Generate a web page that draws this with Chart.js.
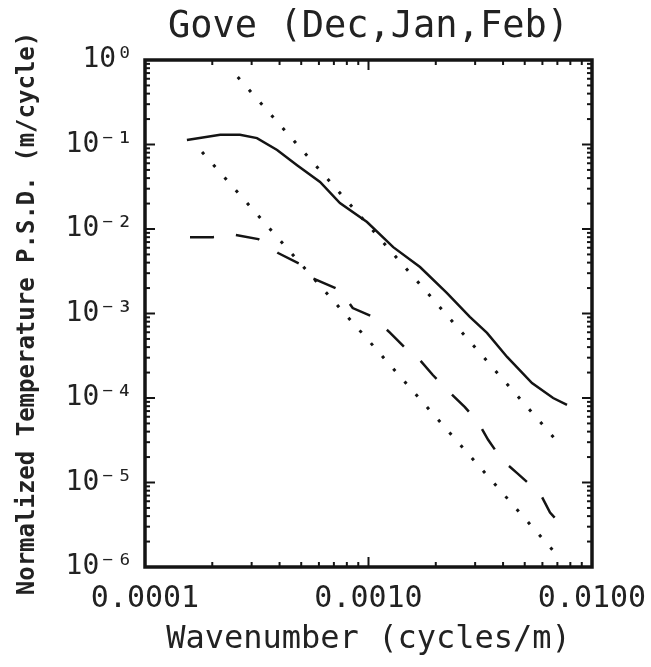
<!DOCTYPE html>
<html><head><meta charset="utf-8">
<script src="https://cdn.jsdelivr.net/npm/chart.js@4/dist/chart.umd.min.js"></script>
<style>html,body{margin:0;padding:0;background:#fff;}#wrap{width:651px;height:667px;}</style>
</head><body><div id="wrap"><canvas id="c" width="651" height="667"></canvas></div>
<script>
// Solid spectrum
const spectrumX = [1.54e-4, 2.17e-4, 2.66e-4, 3.17e-4, 3.9e-4, 4.79e-4, 6.07e-4, 7.45e-4, 9.85e-4, 1.29e-3, 1.70e-3, 2.24e-3, 2.84e-3, 3.39e-3, 4.17e-3, 5.39e-3, 6.7e-3, 7.73e-3];
const spectrumY = [0.113, 0.13, 0.13, 0.119, 0.086, 0.057, 0.036, 0.0203, 0.0121, 6.1e-3, 3.55e-3, 1.75e-3, 9.1e-4, 5.9e-4, 3.06e-4, 1.5e-4, 1.0e-4, 8.3e-5];
// Dashed spectrum
const dashedX = [1.59e-4, 2.01e-4, 2.53e-4, 3.21e-4, 3.94e-4, 5.04e-4, 5.47e-4, 7.45e-4, 8.5e-4, 1.05e-3, 1.25e-3, 1.46e-3, 1.70e-3, 1.94e-3, 2.32e-3, 2.70e-3, 3.09e-3, 3.43e-3, 3.96e-3, 4.61e-3, 5.17e-3, 5.85e-3, 6.49e-3, 7.41e-3];
const dashedY = [8.0e-3, 8.0e-3, 8.5e-3, 7.6e-3, 5.2e-3, 3.75e-3, 2.7e-3, 1.9e-3, 1.16e-3, 9.1e-4, 5.9e-4, 3.9e-4, 2.8e-4, 1.87e-4, 1.15e-4, 7.8e-5, 5.2e-5, 3.2e-5, 1.85e-5, 1.3e-5, 9.9e-6, 7.5e-6, 4.4e-6, 3.0e-6];
// Dotted reference lines
const refUpperX = [2.6e-4, 1.0e-3, 7.2e-3];
const refUpperY = [0.63, 0.011, 2.8e-5];
const refLowerX = [1.8e-4, 1.0e-3, 6.97e-3];
const refLowerY = [0.0815, 4.8e-4, 1.39e-6];
// Ticks
const xTickValues = [0.0001, 0.001, 0.01];
const yTickValues = [1e-6, 1e-5, 1e-4, 1e-3, 1e-2, 1e-1, 1];

const SUP = {'0':'⁰','1':'¹','2':'²','3':'³','4':'⁴','5':'⁵','6':'⁶','7':'⁷','8':'⁸','9':'⁹','-':'⁻'};
function supLabel(v){const e=String(Math.round(Math.log10(v)));return '10'+e.split('').map(c=>SUP[c]).join('');}
const pts=(xs,ys)=>xs.map((x,i)=>({x,y:ys[i]}));
const INK='#141414';
const MONO='"DejaVu Sans Mono", monospace';

const framePlugin={
  id:'frame',
  afterDatasetsDraw(chart){
    const {ctx,chartArea:a,scales:{x,y}}=chart;
    ctx.save();
    ctx.strokeStyle=INK;ctx.lineWidth=2;
    const ln=(x1,y1,x2,y2)=>{ctx.beginPath();ctx.moveTo(x1,y1);ctx.lineTo(x2,y2);ctx.stroke();};
    for(let d=-4;d<=-2;d++){for(let m=1;m<10;m++){const v=m*Math.pow(10,d);if(v>0.01*1.0001)break;const px=x.getPixelForValue(v);const L=(m===1)?10:5;ln(px,a.bottom,px,a.bottom-L);ln(px,a.top,px,a.top+L);}}
    for(let d=-6;d<=0;d++){for(let m=1;m<10;m++){const v=m*Math.pow(10,d);if(v>1.0001)break;const py=y.getPixelForValue(v);const L=(m===1)?10:5;ln(a.left,py,a.left+L,py);ln(a.right,py,a.right-L,py);}}
    ctx.lineWidth=3.5;ctx.strokeRect(a.left,a.top,a.right-a.left,a.bottom-a.top);
    ctx.restore();
  }
};

new Chart(document.getElementById('c'),{
  type:'scatter',
  data:{datasets:[
    {data:pts(spectrumX,spectrumY),showLine:true,borderColor:INK,borderWidth:2.5,pointRadius:0,tension:0},
    {data:pts(dashedX,dashedY),showLine:true,borderColor:INK,borderWidth:2.5,borderDash:[24,22],pointRadius:0,tension:0},
    {data:pts(refUpperX,refUpperY),showLine:true,borderColor:INK,borderWidth:3,borderDash:[3,14],pointRadius:0,tension:0},
    {data:pts(refLowerX,refLowerY),showLine:true,borderColor:INK,borderWidth:3,borderDash:[3,14],pointRadius:0,tension:0}
  ]},
  options:{
    responsive:false,animation:false,
    layout:{padding:{left:0,right:59,top:0,bottom:0}},
    plugins:{
      legend:{display:false},tooltip:{enabled:false},
      title:{display:true,fullSize:false,text:'Gove (Dec,Jan,Feb)',color:'#222',font:{family:MONO,size:37,lineHeight:1,weight:'normal'},padding:{top:9,bottom:14}}
    },
    scales:{
      x:{type:'logarithmic',min:1e-4,max:1e-2,position:'bottom',
        afterBuildTicks:s=>{s.ticks=xTickValues.map(v=>({value:v}));},
        afterFit:s=>{s.height=100;s.paddingLeft=0;s.paddingRight=0;},
        ticks:{callback:v=>Number(v).toFixed(4),color:'#222',font:{family:MONO,size:30},padding:14,maxRotation:0,autoSkip:false},
        grid:{display:false,drawTicks:false},border:{display:false},
        title:{display:true,text:'Wavenumber (cycles/m)',color:'#222',font:{family:MONO,size:32,lineHeight:1.2},padding:{top:8,bottom:8}}
      },
      y:{type:'logarithmic',min:1e-6,max:1,position:'left',
        afterBuildTicks:s=>{s.ticks=yTickValues.map(v=>({value:v}));},
        afterFit:s=>{s.width=145;s.paddingTop=0;s.paddingBottom=0;},
        ticks:{callback:v=>supLabel(v),color:'#222',font:{family:MONO,size:28},padding:12,autoSkip:false},
        grid:{display:false,drawTicks:false},border:{display:false},
        title:{display:true,text:'Normalized Temperature P.S.D. (m/cycle)',color:'#222',font:{family:MONO,size:24,weight:'bold',lineHeight:1.2},padding:{top:13,bottom:13}}
      }
    }
  },
  plugins:[framePlugin]
});
</script></body></html>
